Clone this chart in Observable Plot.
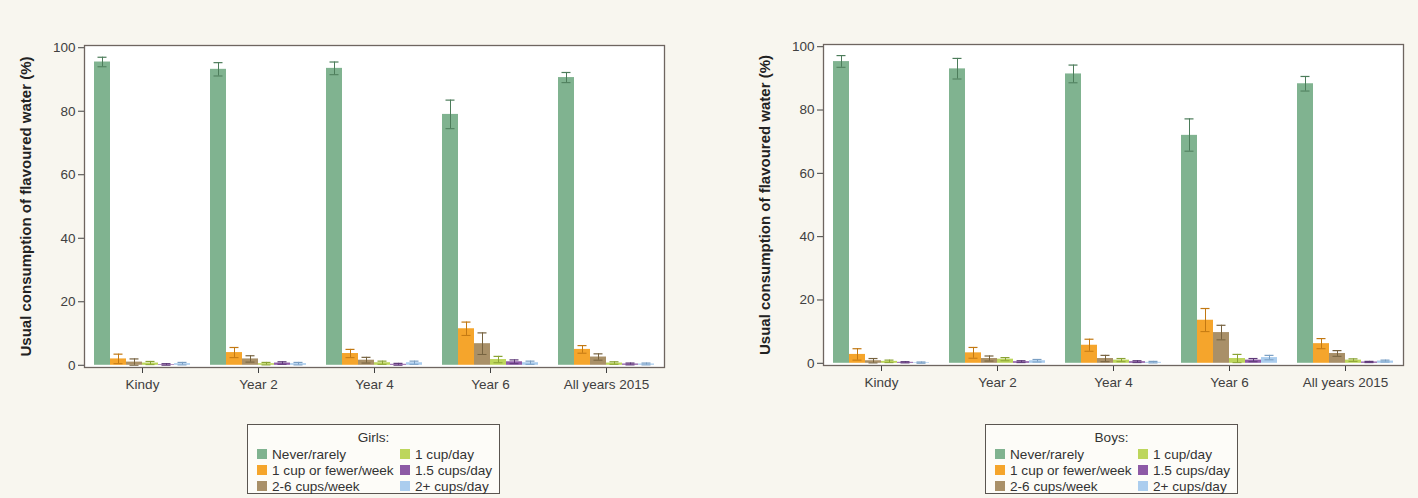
<!DOCTYPE html>
<html><head><meta charset="utf-8">
<script src="https://cdn.jsdelivr.net/npm/d3@7"></script>
<script src="https://cdn.jsdelivr.net/npm/@observablehq/plot@0.6"></script>
<style>
body{margin:0;background:#f8f6ef;width:1418px;height:498px;overflow:hidden;position:relative;font-family:"Liberation Sans",Arial,sans-serif;}
.chart{position:absolute;top:0;width:700px;}
.chart svg{max-width:none !important;}
.legend{position:absolute;top:424px;height:70px;width:253px;border:1px solid #5a5550;background:#fdfcf8;box-sizing:border-box;color:#333;font-size:13.6px;}
.legend .title{text-align:center;font-size:13.6px;margin-top:5px;line-height:16px;}
.legend .items{display:grid;grid-template-columns:143px auto;grid-template-rows:repeat(3,16px);grid-auto-flow:column;padding-left:9px;}
.legend .item{display:flex;align-items:center;white-space:nowrap;}
.legend .sw{width:10px;height:10px;margin-right:5px;display:inline-block;}
svg g[aria-label="y-axis label"] text{font-weight:bold;font-size:15px;fill:#222;}
</style>
</head><body>
<div id="left" class="chart" style="left:0px"></div>
<div id="right" class="chart" style="left:741px"></div>
<script>
const groups = ["Kindy","Year 2","Year 4","Year 6","All years 2015"];
const categories = ["Never/rarely","1 cup or fewer/week","2-6 cups/week","1 cup/day","1.5 cups/day","2+ cups/day"];
const colors = ["#80b390","#f5a52c","#a99068","#bdd65c","#8d5aa6","#abcdee"];
const capColors = ["#4c7c5a","#c27812","#76623f","#8aa335","#5e3878","#7a9fc4"];
const yTicks = [0,20,40,60,80,100];
const yLabel = "Usual consumption of flavoured water (%)";

// rows = categories, columns = groups
const girlsMean = [
  [95.5, 93.2, 93.5, 79.0, 90.6],
  [2.0, 4.0, 3.7, 11.5, 5.0],
  [1.0, 2.0, 1.6, 6.8, 2.6],
  [0.7, 0.5, 0.8, 1.8, 0.7],
  [0.2, 0.7, 0.3, 1.1, 0.4],
  [0.5, 0.5, 0.8, 0.8, 0.4]
];
const girlsLow = [
  [94.0, 91.1, 91.5, 74.5, 89.0],
  [0.5, 2.4, 2.4, 9.4, 3.8],
  [0.0, 1.0, 0.7, 3.4, 1.6],
  [0.2, 0.1, 0.3, 0.8, 0.3],
  [0.0, 0.3, 0.0, 0.5, 0.1],
  [0.1, 0.1, 0.3, 0.3, 0.1]
];
const girlsHigh = [
  [97.0, 95.3, 95.5, 83.5, 92.2],
  [3.5, 5.6, 5.0, 13.6, 6.2],
  [2.0, 3.0, 2.5, 10.2, 3.6],
  [1.2, 0.9, 1.3, 2.8, 1.1],
  [0.5, 1.1, 0.6, 1.7, 0.7],
  [0.9, 0.9, 1.3, 1.3, 0.7]
];
const boysMean = [
  [95.3, 93.0, 91.4, 72.0, 88.3],
  [2.8, 3.3, 5.7, 13.6, 6.2],
  [0.8, 1.5, 1.5, 9.7, 3.1],
  [0.6, 1.3, 1.0, 1.5, 1.0],
  [0.3, 0.5, 0.5, 1.0, 0.4],
  [0.2, 0.8, 0.3, 1.8, 0.7]
];
const boysLow = [
  [93.5, 89.8, 88.6, 67.0, 86.0],
  [1.0, 1.6, 3.8, 10.0, 4.6],
  [0.1, 0.7, 0.5, 7.4, 2.2],
  [0.2, 0.8, 0.5, 0.2, 0.6],
  [0.1, 0.2, 0.2, 0.5, 0.2],
  [0.0, 0.4, 0.1, 1.1, 0.4]
];
const boysHigh = [
  [97.2, 96.3, 94.2, 77.2, 90.6],
  [4.6, 5.0, 7.6, 17.3, 7.8],
  [1.5, 2.3, 2.5, 12.0, 4.0],
  [1.0, 1.8, 1.5, 2.8, 1.4],
  [0.5, 0.8, 0.8, 1.5, 0.6],
  [0.4, 1.2, 0.6, 2.5, 1.0]
];

function chart(mean, low, high, opt) {
  const rows = [];
  categories.forEach((c, i) => groups.forEach((g, j) =>
    rows.push({group: g, cat: c, value: mean[i][j], lo: low[i][j], hi: high[i][j]})));
  const errMarks = categories.flatMap((c, i) => {
    const d = rows.filter(r => r.cat === c);
    return [
      Plot.ruleX(d, {fx: "group", x: "cat", y1: "lo", y2: "hi", stroke: capColors[i], strokeWidth: 1}),
      Plot.tickY(d, {fx: "group", x: "cat", y: "hi", stroke: capColors[i], strokeWidth: 1.2, insetLeft: 3.5, insetRight: 3.5}),
      Plot.tickY(d, {fx: "group", x: "cat", y: "lo", stroke: capColors[i], strokeWidth: 1, insetLeft: 3.5, insetRight: 3.5})
    ];
  });
  return Plot.plot({
    width: 700, height: 410,
    marginLeft: 82, marginRight: opt.mr, marginTop: opt.mt, marginBottom: 410 - opt.bottom,
    style: {background: "transparent", fontFamily: "Liberation Sans, Arial, sans-serif", fontSize: "13.5px", color: "#404040", maxWidth: "none"},
    fx: {domain: groups, padding: 0, label: null, axis: "bottom", tickSize: 6, tickPadding: 6},
    x: {domain: categories, paddingInner: 0, paddingOuter: 0.5, axis: null},
    y: {domain: [-0.7, 100.7], ticks: yTicks, tickSize: 6, tickPadding: 3, label: yLabel,
        labelAnchor: "center", labelOffset: 64, labelArrow: "none"},
    color: {domain: categories, range: colors},
    marks: [
      Plot.frame({facet: "super", fill: "white", stroke: "none"}),
      Plot.barY(rows, {fx: "group", x: "cat", y: "value", fill: "cat"}),
      ...errMarks,
      Plot.frame({facet: "super", stroke: "#6e6560", strokeWidth: 1.3})
    ]
  });
}

function legend(plot, title, left) {
  const sc = plot.scale("color");
  const box = document.createElement("div");
  box.className = "legend";
  box.style.left = left + "px";
  const t = document.createElement("div");
  t.className = "title"; t.textContent = title;
  box.appendChild(t);
  const items = document.createElement("div");
  items.className = "items";
  sc.domain.forEach((d, i) => {
    const it = document.createElement("div");
    it.className = "item";
    const sw = document.createElement("span");
    sw.className = "sw"; sw.style.background = sc.range[i];
    it.appendChild(sw);
    it.appendChild(document.createTextNode(d));
    items.appendChild(it);
  });
  box.appendChild(items);
  document.body.appendChild(box);
}

const gp = chart(girlsMean, girlsLow, girlsHigh, {mt: 45, bottom: 367, mr: 35});
document.getElementById("left").appendChild(gp);
legend(gp, "Girls:", 247);
const bp = chart(boysMean, boysLow, boysHigh, {mt: 44, bottom: 365, mr: 38});
document.getElementById("right").appendChild(bp);
legend(bp, "Boys:", 985);
</script>
</body></html>
